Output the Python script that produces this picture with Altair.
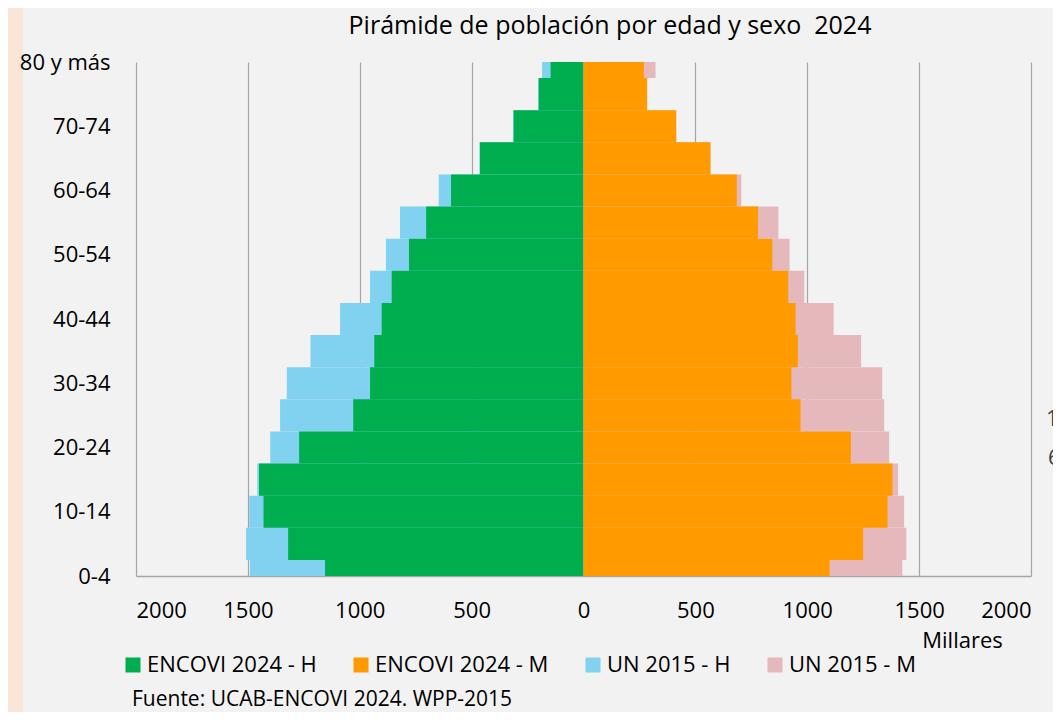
import altair as alt
import pandas as pd

ages = ["0-4", "5-9", "10-14", "15-19", "20-24", "25-29", "30-34", "35-39",
        "40-44", "45-49", "50-54", "55-59", "60-64", "65-69", "70-74", "75-79", "80 y más"]

encovi_h = [1155, 1320, 1430, 1450, 1271, 1029, 954, 935, 902, 857, 780, 703, 592, 463, 312, 200, 147]
encovi_m = [1100, 1250, 1359, 1381, 1195, 970, 929, 958, 948, 915, 844, 780, 685, 567, 414, 284, 270]
un_h = [1491, 1508, 1494, 1458, 1400, 1356, 1326, 1220, 1088, 954, 883, 820, 647, 465, 315, 203, 185]
un_m = [1425, 1443, 1433, 1406, 1366, 1344, 1335, 1241, 1118, 987, 921, 871, 705, 568, 415, 285, 322]

series_names = ["ENCOVI 2024 - H", "ENCOVI 2024 - M", "UN 2015 - H", "UN 2015 - M"]
series_colors = ["#00ad4f", "#ff9b00", "#80d2f0", "#e5b9bb"]

title_text = "Pirámide de población por edad y sexo\u00a0 2024"
source_text = "Fuente: UCAB-ENCOVI 2024. WPP-2015"
axis_unit = "Millares"

FONT = "Open Sans"

rows = []
for vals, name, sign in [(un_h, series_names[2], -1), (un_m, series_names[3], 1),
                         (encovi_h, series_names[0], -1), (encovi_m, series_names[1], 1)]:
    for i, v in enumerate(vals):
        rows.append({"idx": i, "edad": ages[i], "serie": name, "valor": sign * v})
df = pd.DataFrame(rows)

label_expr = "[" + ",".join("'" + a + "'" for a in ages) + "][datum.value]"

color = alt.Color(
    "serie:N",
    scale=alt.Scale(domain=series_names, range=series_colors),
    legend=alt.Legend(
        orient="none", legendX=-14, legendY=592, direction="horizontal", title=None,
        padding=0, symbolType="square", symbolSize=225, symbolStrokeWidth=0,
        symbolOpacity=1, labelFont=FONT, labelFontSize=22, labelColor="black",
        labelOffset=3, columnPadding=33, labelLimit=400,
    ),
)

x_enc = alt.X(
    "valor:Q",
    scale=alt.Scale(domain=[-2000, 2000], nice=False),
    axis=alt.Axis(
        values=list(range(-2000, 2001, 500)), labelExpr="abs(datum.value)",
        ticks=False, grid=True, gridColor="#a6a6a6", gridWidth=1.2,
        domainColor="#a6a6a6", domainWidth=1.5,
        labelFont=FONT, labelFontSize=22, labelColor="black", labelPadding=24,
        title=axis_unit, titleFont=FONT, titleFontSize=22, titleFontWeight="normal",
        titleColor="black", titleX=826, titleY=64, titleAlign="center",
        titleBaseline="middle",
    ),
)

y_enc = alt.Y(
    "y0:Q",
    scale=alt.Scale(domain=[0, len(ages) - 1], nice=False, zero=False),
    axis=alt.Axis(
        values=list(range(0, len(ages), 2)), labelExpr=label_expr,
        ticks=False, grid=False, domain=False, zindex=2,
        labelFont=FONT, labelFontSize=22, labelColor="black", labelPadding=26,
        title=None,
    ),
)

base = alt.Chart(df).transform_calculate(
    y0="datum.idx - 0.5", y1="datum.idx + 0.5", cero="0"
)

un_bars = base.transform_filter(
    alt.FieldOneOfPredicate(field="serie", oneOf=series_names[2:])
).mark_rect(clip=True).encode(
    x=x_enc, x2="cero:Q", y=y_enc, y2="y1:Q", color=color
)

encovi_bars = base.transform_filter(
    alt.FieldOneOfPredicate(field="serie", oneOf=series_names[:2])
).mark_rect(clip=True).encode(
    x="valor:Q", x2="cero:Q", y="y0:Q", y2="y1:Q", color=color
)

one = pd.DataFrame({"t": [title_text]})

strip = alt.Chart(one).mark_rect(color="#fbe5d6").encode(
    x=alt.value(-128), x2=alt.value(-113), y=alt.value(-54), y2=alt.value(650)
)

title = alt.Chart(one).mark_text(
    font=FONT, fontSize=25, color="black", align="center", baseline="middle"
).encode(text="t:N", x=alt.value(474), y=alt.value(-36))

source = alt.Chart(pd.DataFrame({"t": [source_text]})).mark_text(
    font=FONT, fontSize=21, color="black", align="left", baseline="middle"
).encode(text="t:N", x=alt.value(-4), y=alt.value(638))

cut1 = alt.Chart(pd.DataFrame({"t": ["1"]})).mark_text(
    font=FONT, fontSize=22, color="#404040", align="left", baseline="middle"
).encode(text="t:N", x=alt.value(910), y=alt.value(357))

cut2 = alt.Chart(pd.DataFrame({"t": ["6"]})).mark_text(
    font=FONT, fontSize=22, color="#404040", align="left", baseline="middle"
).encode(text="t:N", x=alt.value(912), y=alt.value(396))

chart = alt.layer(strip, un_bars, encovi_bars, title, source, cut1, cut2).properties(
    width=895, height=514,
    autosize=alt.AutoSizeParams(type="none"),
    padding={"left": 128, "top": 54, "right": 22, "bottom": 136},
    background="#f2f2f2",
).configure_view(stroke=None)

chart.save("out.html", embed_options={"renderer": "svg", "actions": False})
